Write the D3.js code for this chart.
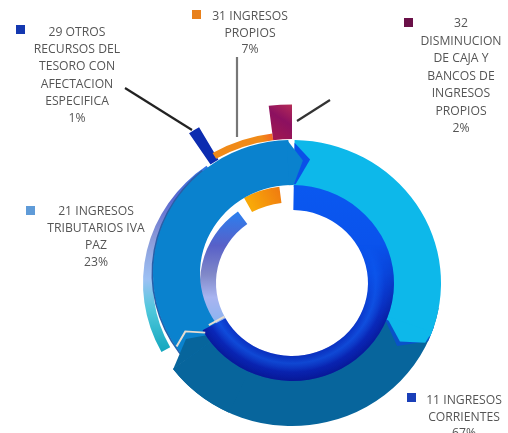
<!DOCTYPE html>
<html><head><meta charset="utf-8">
<script src="https://cdn.jsdelivr.net/npm/d3@7"></script>
<style>html,body{margin:0;padding:0;background:#fff;overflow:hidden}svg{display:block;filter:blur(.6px)}text{font-family:"Open Sans",sans-serif;font-size:12.2px;fill:#555;text-anchor:middle}</style>
</head><body><svg id="c" width="508" height="433"></svg>
<script>
const categories=[["11 INGRESOS","CORRIENTES"],["21 INGRESOS","TRIBUTARIOS IVA","PAZ"],["29 OTROS","RECURSOS DEL","TESORO CON","AFECTACION","ESPECIFICA"],["31 INGRESOS","PROPIOS"],["32","DISMINUCION","DE CAJA Y","BANCOS DE","INGRESOS","PROPIOS"]];
const values=[67,23,1,7,2];
const percentLabels=["67%","23%","1%","7%","2%"];
const keyColors=["#1a3fb8","#5f9bd8","#1438b0","#e8801c","#6a1048"];

const svg=d3.select("#c"),defs=svg.append("defs");
const rad=d=>d*Math.PI/180, deg=a=>a*180/Math.PI;
const pie=d3.pie().sort(null).value(d=>d)(values);
const [s11,s21,s29,s31,s32]=pie;
const arc=(r0,r1,a0,a1)=>d3.arc()({innerRadius:r0,outerRadius:r1,startAngle:a0,endAngle:a1});
const poly=pts=>d3.lineRadial().angle(d=>rad(d[0])).radius(d=>d[1]).curve(d3.curveLinear)(pts)+"Z";
function grad(id,x1,y1,x2,y2,stops){const g=defs.append("linearGradient").attr("id",id).attr("gradientUnits","userSpaceOnUse").attr("x1",x1).attr("y1",y1).attr("x2",x2).attr("y2",y2);stops.forEach(s=>g.append("stop").attr("offset",s[0]).attr("stop-color",s[1]));}
grad("rimOut",0,-130,0,80,[[0,"#2f78e8"],[.2,"#5a68d0"],[.4,"#8a9ad8"],[.6,"#9cc0f4"],[.75,"#50c8dc"],[1,"#08a0b8"]]);
grad("rimIn",0,-75,0,45,[[0,"#2a80f0"],[.3,"#5860c8"],[.55,"#8088c8"],[.75,"#a8b4f0"],[1,"#88b4f0"]]);
grad("org",-30,-150,0,-160,[[0,"#f08a18"],[.6,"#f8502c"],[1,"#e03848"]]);
grad("orgIn",-40,-80,-10,-95,[[0,"#f8a808"],[1,"#f07a10"]]);
grad("mar",12,-195,-18,-150,[[0,"#f8c020"],[.3,"#b02858"],[.6,"#8c1060"],[1,"#a01850"]]);
grad("navy",0,-100,0,100,[[0,"#0a58f0"],[.45,"#0a50ea"],[.75,"#0c34cc"],[1,"#0a2ab8"]]);
grad("fade",0,-40,0,40,[[0,"#000"],[1,"#fff"]]);
const rg=defs.append("radialGradient").attr("id","bevel").attr("gradientUnits","userSpaceOnUse").attr("cx",0).attr("cy",0).attr("r",102);
[[.74,"#0a30b0",.25],[.82,"#1878f8",.35],[.91,"#0818a0",.45],[1,"#060c80",.6]].forEach(s=>rg.append("stop").attr("offset",s[0]).attr("stop-color",s[1]).attr("stop-opacity",s[2]));
defs.append("mask").attr("id","lower").attr("maskUnits","userSpaceOnUse").attr("x",-110).attr("y",-110).attr("width",220).attr("height",220)
  .append("rect").attr("x",-110).attr("y",-110).attr("width",220).attr("height",220).attr("fill","url(#fade)");

const g=svg.append("g").attr("transform","translate(292,283) scale(1,.96)");
const TAU=Math.PI*2;
const end11=s11.endAngle,e=deg(end11);

// leader lines
[[125,88,192,130,"#222"],[237,57,237,137,"#777"],[330,100,297,121,"#333"]].forEach(l=>svg.insert("line","g").attr("x1",l[0]).attr("y1",l[1]).attr("x2",l[2]).attr("y2",l[3]).attr("stroke",l[4]).attr("stroke-width",2.2));

// small slices, outer protrusions
g.append("path").attr("d",arc(148,187,s29.startAngle-TAU+rad(2.6),s29.endAngle-TAU+rad(2.6))).attr("fill","#0c2cb0");
g.append("path").attr("d",arc(150,157,s31.startAngle-TAU+rad(2),s31.endAngle-TAU)).attr("fill","url(#org)");
g.append("path").attr("d",arc(150,186,s32.startAngle-TAU,s32.endAngle-TAU)).attr("fill","url(#mar)");

// slice 21 inner and outer rims
g.append("path").attr("d",arc(139,149,s21.startAngle,s21.endAngle+rad(1))).attr("fill","url(#rimOut)");
g.append("path").attr("d",arc(76,92,s21.startAngle,s21.endAngle)).attr("fill","url(#rimIn)");
g.append("path").attr("d",arc(84,101,s31.startAngle+rad(4),s31.endAngle)).attr("fill","url(#orgIn)");

// slice 11: dark base, shadow, cyan top part, chevron
g.append("path").attr("d",arc(98,149,rad(100),rad(233))).attr("fill","#07659c");
g.append("path").attr("d",poly([[114,149],[122,124],[112,100],[108,100],[108,149]])).attr("fill","#0a52c8");
g.append("path").attr("d",arc(100,149,rad(1),rad(112))).attr("fill","#0db8ea");
g.append("path").attr("d",poly([[110,149],[115,147],[119.5,124],[110,100]])).attr("fill","#0db8ea");
g.append("path").attr("d",poly([[1,146],[8,130],[2,103],[1,103]])).attr("fill","#0a50e8");

// slice 21 main band, lifted
const band=g.append("g").attr("transform","translate(0,-10)");
band.append("path").attr("d",arc(138.5,140.5,rad(228),rad(320))).attr("fill","#2a5fa8");
band.append("path").attr("d",arc(92,139,rad(228),rad(358.5))).attr("fill","#0a82ce");
band.append("path").attr("d",poly([[-2,139],[5.3,118],[1,92],[-2,92]])).attr("fill","#0a82ce");

// slice 11 dark end over the band, and bevelled inner ring
g.append("path").attr("d",arc(98,149,rad(205),rad(233))).attr("fill","#07659c");
g.append("path").attr("d",poly([[232.9,149],[e,121],[e-4,100],[232.9,98]])).attr("fill","#07659c");
g.append("path").attr("d",arc(76,102,s11.startAngle+rad(1),end11)).attr("fill","url(#navy)");
g.append("path").attr("d",arc(76,102,s11.startAngle+rad(1),end11)).attr("fill","url(#bevel)").attr("mask","url(#lower)");

// jagged seams
[[[e-1,133],[e+3.5,118],[e-2,101]],[[e+1,94],[e+1.5,76]]].forEach(p=>g.append("path").attr("d",d3.lineRadial().angle(d=>rad(d[0])).radius(d=>d[1])(p)).attr("fill","none").attr("stroke","#e6dcd0").attr("stroke-width",2));

// labels with keys
const labelPos=[[464,400,16.5,407,393],[96,211,17,26,206],[77,32,17.2,16,25],[250,16,16.5,192,10],[461,23,17.5,404,18]];
categories.forEach((c,i)=>{
  const [x,y,dy,kx,ky]=labelPos[i],t=svg.append("g");
  t.append("rect").attr("x",kx).attr("y",ky).attr("width",9).attr("height",9).attr("fill",keyColors[i]);
  c.concat(percentLabels[i]).forEach((line,j)=>t.append("text").attr("x",x).attr("y",y+4+j*dy).text(line));
});
</script></body></html>
